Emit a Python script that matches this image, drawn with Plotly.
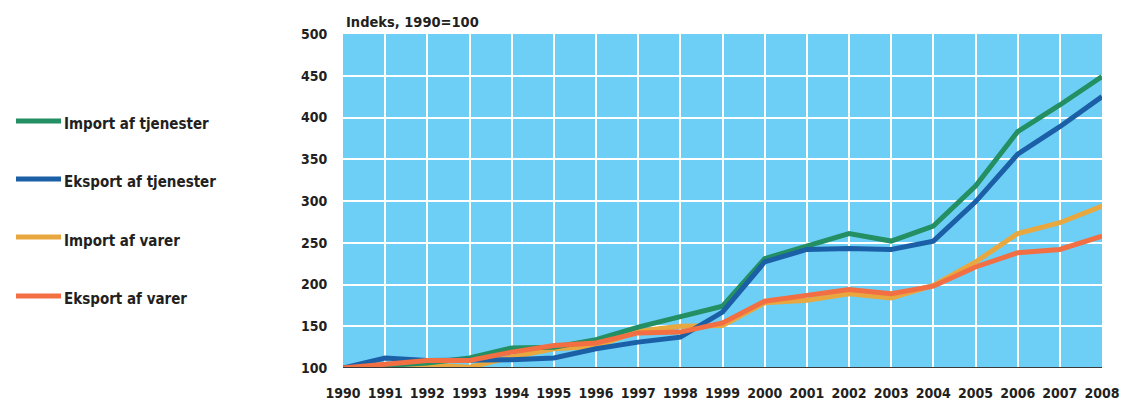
import plotly.graph_objects as go

years = list(range(1990, 2009))
import_tjenester = [100, 103, 106, 112, 124, 125, 134, 149, 162, 174, 231, 246, 261, 252, 270, 318, 383, 415, 449]
eksport_tjenester = [100, 112, 109, 109, 110, 112, 123, 131, 137, 167, 227, 242, 243, 242, 252, 299, 356, 389, 425]
import_varer = [100, 104, 104, 101, 113, 123, 126, 144, 150, 151, 178, 181, 189, 184, 199, 227, 261, 274, 294]
eksport_varer = [100, 105, 109, 109, 119, 127, 130, 142, 143, 154, 180, 187, 194, 189, 198, 221, 238, 242, 258]

series = [
    ("Import af tjenester", import_tjenester, "#238f62"),
    ("Eksport af tjenester", eksport_tjenester, "#1b5fa6"),
    ("Import af varer", import_varer, "#e8a83f"),
    ("Eksport af varer", eksport_varer, "#f26f43"),
]

W, H = 1122, 403
L, T = 343, 34
pw, ph = 759, 334
R = W - L - pw
B = H - T - ph

def px2x(px):
    return (px - L) / pw

def py2y(py):
    return (T + ph - py) / ph

fig = go.Figure()
for i in [2, 0, 1, 3]:
    name, vals, col = series[i]
    fig.add_trace(go.Scatter(x=years, y=vals, mode="lines", name=name,
                             line=dict(color=col, width=5), showlegend=False))

font = "DejaVu Sans Condensed, Open Sans"
txtcol = "#231f20"
legend_y = [(121, 124), (179, 182), (237, 241), (296, 299)]
shapes = []
annotations = []
for (name, vals, col), (ly, ty) in zip(series, legend_y):
    shapes.append(dict(type="line", xref="paper", yref="paper",
                       x0=px2x(16), x1=px2x(61), y0=py2y(ly), y1=py2y(ly),
                       line=dict(color=col, width=5)))
    annotations.append(dict(text="<b>" + name + "</b>", xref="paper", yref="paper",
                            x=px2x(62), y=py2y(ty), xanchor="left", yanchor="middle",
                            showarrow=False, font=dict(family=font, size=15, color=txtcol)))

annotations.append(dict(text="<b>Indeks, 1990=100</b>", xref="paper", yref="paper",
                        x=px2x(344), y=py2y(22), xanchor="left", yanchor="middle",
                        showarrow=False, font=dict(family=font, size=14.5, color=txtcol)))

fig.update_layout(
    width=W, height=H,
    margin=dict(l=L, r=R, t=T, b=B, autoexpand=False),
    paper_bgcolor="white",
    plot_bgcolor="#6dcff6",
    shapes=shapes,
    annotations=annotations,
    font=dict(family=font, size=14, color=txtcol),
)
fig.update_xaxes(range=[1990, 2008], tickmode="array", tickvals=years,
                 ticktext=["<b>%d</b>" % y for y in years],
                 showgrid=True, gridcolor="white", gridwidth=2,
                 zeroline=False, showline=False, automargin=False,
                 ticks="outside", ticklen=12, tickcolor="rgba(0,0,0,0)",
                 tickfont=dict(family=font, size=14, color=txtcol))
fig.update_yaxes(range=[100, 500], tickmode="array", tickvals=list(range(100, 501, 50)),
                 ticktext=["<b>%d</b>" % v for v in range(100, 501, 50)],
                 showgrid=True, gridcolor="white", gridwidth=2,
                 zeroline=False, showline=False, automargin=False,
                 ticks="outside", ticklen=12, tickcolor="rgba(0,0,0,0)",
                 tickfont=dict(family=font, size=14, color=txtcol))
fig.add_shape(type="line", xref="paper", yref="y", x0=0, x1=1, y0=100, y1=100,
              line=dict(color="#3a3a3a", width=2), layer="above")

fig.write_html("out.html", config={"displayModeBar": False},
               post_script="document.body.style.margin='0';document.body.style.overflow='hidden';")
